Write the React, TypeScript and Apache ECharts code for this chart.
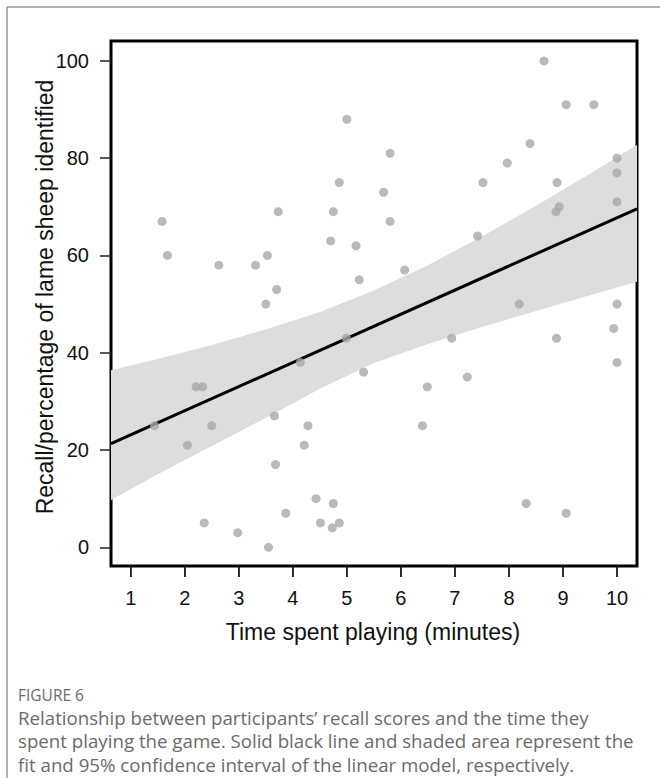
import React, { useEffect, useRef } from "react";
import * as echarts from "echarts";

// Observations: time spent playing (minutes) and recall (%)
const timeMinutes = [
  1.44, 1.58, 1.68, 2.05, 2.21, 2.33, 2.36, 2.5, 2.63, 2.98,
  3.31, 3.5, 3.53, 3.55, 3.66, 3.68, 3.7, 3.73, 3.87, 4.14,
  4.21, 4.28, 4.43, 4.51, 4.7, 4.73, 4.75, 4.75, 4.86, 4.86,
  4.99, 5.0, 5.17, 5.23, 5.31, 5.68, 5.8, 5.8, 6.07, 6.4,
  6.49, 6.94, 7.23, 7.42, 7.52, 7.97, 8.19, 8.32, 8.39, 8.65,
  8.87, 8.88, 8.89, 8.93, 9.06, 9.06, 9.57, 9.94, 10.0, 10.0,
  10.0, 10.0, 10.0,
];
const recallPct = [
  25, 67, 60, 21, 33, 33, 5, 25, 58, 3,
  58, 50, 60, 0, 27, 17, 53, 69, 7, 38,
  21, 25, 10, 5, 63, 4, 69, 9, 75, 5,
  43, 88, 62, 55, 36, 73, 81, 67, 57, 25,
  33, 43, 35, 64, 75, 79, 50, 9, 83, 100,
  69, 43, 75, 70, 91, 7, 91, 45, 80, 77,
  71, 50, 38,
];

// Fitted line (read at the plot edges)
const fitX = [0.635, 10.37];
const fitY = [21.3, 69.6];

// 95% confidence band
const bandX = [0.635, 1.5, 2.5, 3.5, 4.5, 5.5, 6.5, 7.5, 8.5, 9.5, 10.37];
const bandUpper = [36.4, 38.7, 41.6, 44.8, 48.4, 52.8, 58.0, 63.9, 70.2, 76.8, 82.7];
const bandLower = [9.7, 15.0, 20.8, 26.6, 32.6, 37.9, 41.8, 45.3, 48.6, 51.8, 54.6];

const xTicks = [1, 2, 3, 4, 5, 6, 7, 8, 9, 10];
const yTicks = [0, 20, 40, 60, 80, 100];

const xMin = 0.635;
const xMax = 10.37;
const yMin = -3.85;
const yMax = 104.1;

const captionLines = [
  "Relationship between participants\u2019 recall scores and the time they",
  "spent playing the game. Solid black line and shaded area represent the",
  "fit and 95% confidence interval of the linear model, respectively.",
];

export default function App() {
  const ref = useRef<HTMLDivElement>(null);

  useEffect(() => {
    if (!ref.current) return;
    const chart = echarts.init(ref.current, undefined, { renderer: "svg" });
    const sans = "Liberation Sans, Arial, sans-serif";
    const capFont = "Open Sans, sans-serif";

    const tickStyle = { color: "#222", width: 1.5 };

    const option: any = {
      animation: false,
      backgroundColor: "#ffffff",
      grid: {
        left: 111,
        top: 41,
        right: 23,
        bottom: 212,
        show: true,
        borderColor: "#000000",
        borderWidth: 3,
        backgroundColor: "transparent",
      },
      xAxis: {
        type: "value",
        min: xMin,
        max: xMax,
        position: "bottom",
        axisLine: { show: false, onZero: false },
        splitLine: { show: false },
        axisTick: {
          show: true,
          inside: false,
          length: 11,
          customValues: xTicks,
          lineStyle: tickStyle,
        },
        axisLabel: {
          customValues: xTicks,
          margin: 22,
          fontSize: 20,
          fontFamily: sans,
          color: "#111",
        },
        z: 5,
      },
      yAxis: {
        type: "value",
        min: yMin,
        max: yMax,
        position: "left",
        axisLine: { show: false, onZero: false },
        splitLine: { show: false },
        axisTick: {
          show: true,
          inside: false,
          length: 11,
          customValues: yTicks,
          lineStyle: tickStyle,
        },
        axisLabel: {
          customValues: yTicks,
          margin: 22,
          fontSize: 20,
          fontFamily: sans,
          color: "#111",
        },
        z: 5,
      },
      series: [
        {
          type: "custom",
          name: "95% CI",
          silent: true,
          clip: true,
          z: 1,
          data: [[bandX[0], bandLower[0]]],
          renderItem: (_params: any, api: any) => {
            const pts: number[][] = [];
            for (let i = 0; i < bandX.length; i++) pts.push(api.coord([bandX[i], bandUpper[i]]));
            for (let i = bandX.length - 1; i >= 0; i--) pts.push(api.coord([bandX[i], bandLower[i]]));
            return {
              type: "polygon",
              shape: { points: pts },
              style: { fill: "#dddddd", stroke: "none" },
            };
          },
        },
        {
          type: "line",
          name: "fit",
          z: 2,
          symbol: "none",
          silent: true,
          data: fitX.map((x, i) => [x, fitY[i]]),
          lineStyle: { color: "#000000", width: 3 },
        },
        {
          type: "scatter",
          name: "participants",
          z: 3,
          symbol: "circle",
          symbolSize: 9,
          silent: true,
          data: timeMinutes.map((x, i) => [x, recallPct[i]]),
          itemStyle: { color: "#a9a9a9" },
        },
        {
          // x-axis tick marks below the plot frame
          type: "custom",
          name: "xticks",
          silent: true,
          clip: false,
          z: 6,
          data: xTicks.map((t) => [t, yMin]),
          renderItem: (_params: any, api: any) => {
            const p = api.coord([api.value(0), yMin]);
            return {
              type: "line",
              shape: { x1: p[0], y1: p[1] + 1, x2: p[0], y2: p[1] + 11 },
              style: { stroke: "#222", lineWidth: 1.5 },
            };
          },
        },
      ],
      graphic: [
        {
          type: "line",
          shape: { x1: 7, y1: 7, x2: 7, y2: 778 },
          style: { stroke: "#9a9a9a", lineWidth: 1.5 },
          silent: true,
        },
        {
          type: "line",
          shape: { x1: 7, y1: 7, x2: 660, y2: 7 },
          style: { stroke: "#9a9a9a", lineWidth: 1.5 },
          silent: true,
        },
        {
          type: "text",
          x: 373,
          y: 632,
          style: {
            text: "Time spent playing (minutes)",
            fontSize: 23,
            fontFamily: sans,
            fill: "#111",
            align: "center",
            verticalAlign: "middle",
          },
        },
        {
          type: "text",
          x: 45,
          y: 297,
          rotation: Math.PI / 2,
          style: {
            text: "Recall/percentage of lame sheep identified",
            fontSize: 23,
            fontFamily: sans,
            fill: "#111",
            align: "center",
            verticalAlign: "middle",
          },
        },
        {
          type: "text",
          x: 18,
          y: 695,
          style: {
            text: "FIGURE 6",
            fontSize: 15.5,
            fontFamily: capFont,
            fill: "#6b6b6b",
            align: "left",
            verticalAlign: "middle",
          },
        },
        ...captionLines.map((t, i) => ({
          type: "text",
          x: 18,
          y: 717 + i * 23.5,
          style: {
            text: t,
            fontSize: 18.7,
            fontFamily: capFont,
            fill: "#6b6b6b",
            align: "left",
            verticalAlign: "middle",
          },
        })),
      ],
    };

    chart.setOption(option);
    return () => {
      chart.dispose();
    };
  }, []);

  return (
    <div
      ref={ref}
      style={{ position: "absolute", left: 0, top: 0, width: 660, height: 778 }}
    />
  );
}
